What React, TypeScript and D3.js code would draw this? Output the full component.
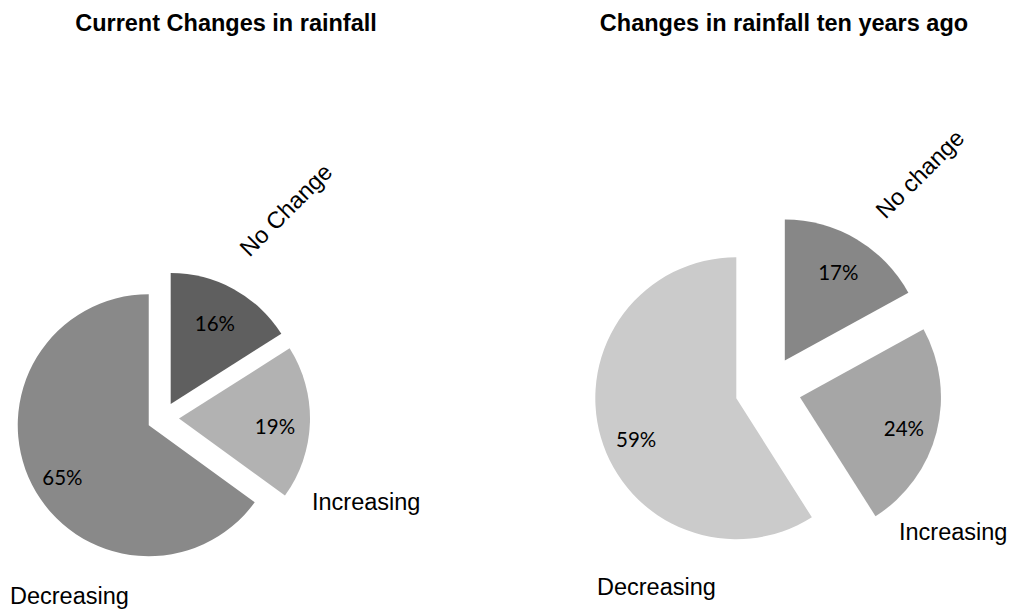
import React from "react";
import * as d3 from "d3";

// Survey responses on rainfall change (percent of respondents)
const categories = ["No Change", "Increasing", "Decreasing"];
const currentValues = [16, 19, 65];
const pastValues = [17, 24, 59];
const currentLabels = ["No Change", "Increasing", "Decreasing"];
const pastLabels = ["No change", "Increasing", "Decreasing"];
const currentColors = ["#5f5f5f", "#b2b2b2", "#898989"];
const pastColors = ["#878787", "#a6a6a6", "#cbcbcb"];

const W = 1013;
const H = 610;
const LABEL_FONT = "'Liberation Sans', Arial, sans-serif";
const PCT_FONT = "Lato, 'Open Sans', sans-serif";

type NamePos = { x: number; y: number; rotate?: number; anchor?: string };

type PieSpec = {
  title: string;
  titleX: number;
  cx: number;
  cy: number;
  r: number;
  explode: number;
  // per-slice value-label placement: radius fraction and angular nudge (degrees)
  labelRatio: number[];
  labelTurn: number[];
  values: number[];
  colors: string[];
  names: string[];
  namePos: NamePos[];
};

const pies: PieSpec[] = [
  {
    title: "Current Changes in rainfall",
    titleX: 226,
    cx: 163,
    cy: 418,
    r: 131,
    explode: 16,
    labelRatio: [0.7, 0.735, 0.77],
    labelTurn: [0, 2.8, -4.1],
    values: currentValues,
    colors: currentColors,
    names: currentLabels,
    namePos: [
      { x: 286, y: 210, rotate: -45, anchor: "middle" },
      { x: 312, y: 510, anchor: "start" },
      { x: 10, y: 604, anchor: "start" },
    ],
  },
  {
    title: "Changes in rainfall ten years ago",
    titleX: 784,
    cx: 768,
    cy: 389,
    r: 141,
    explode: 33,
    labelRatio: [0.73, 0.77, 0.77],
    labelTurn: [0.7, 2.3, -6.5],
    values: pastValues,
    colors: pastColors,
    names: pastLabels,
    namePos: [
      { x: 920, y: 174, rotate: -45, anchor: "middle" },
      { x: 899, y: 540, anchor: "start" },
      { x: 597, y: 595, anchor: "start" },
    ],
  },
];

function ExplodedPie({ spec }: { spec: PieSpec }) {
  const pie = d3
    .pie<number>()
    .sort(null)
    .value((d) => d)
    .startAngle(0)
    .endAngle(2 * Math.PI);
  const slices = pie(spec.values);
  const arc = d3.arc<d3.PieArcDatum<number>>().innerRadius(0).outerRadius(spec.r);

  return (
    <g>
      <text
        x={spec.titleX}
        y={31}
        textAnchor="middle"
        fontFamily={LABEL_FONT}
        fontWeight="bold"
        fontSize={23.5}
        fill="#000"
      >
        {spec.title}
      </text>
      <g transform={`translate(${spec.cx},${spec.cy})`}>
        {slices.map((s, i) => {
          const mid = (s.startAngle + s.endAngle) / 2;
          const dx = Math.sin(mid) * spec.explode;
          const dy = -Math.cos(mid) * spec.explode;
          const la = mid + (spec.labelTurn[i] * Math.PI) / 180;
          const lr = spec.r * spec.labelRatio[i];
          const lx = Math.sin(la) * lr;
          const ly = -Math.cos(la) * lr;
          return (
            <g key={categories[i]} transform={`translate(${dx},${dy})`}>
              <path d={arc(s) || ""} fill={spec.colors[i]} />
              <text
                x={lx}
                y={ly}
                dy="0.36em"
                textAnchor="middle"
                fontFamily={PCT_FONT}
                fontSize={20.5}
                fill="#000"
              >
                {`${s.data}%`}
              </text>
            </g>
          );
        })}
      </g>
      {spec.names.map((n, i) => {
        const p = spec.namePos[i];
        return (
          <text
            key={n}
            x={p.x}
            y={p.y}
            textAnchor={p.anchor || "start"}
            dominantBaseline={p.rotate ? "central" : "auto"}
            transform={p.rotate ? `rotate(${p.rotate},${p.x},${p.y})` : undefined}
            fontFamily={LABEL_FONT}
            fontSize={23.5}
            fill="#000"
          >
            {n}
          </text>
        );
      })}
    </g>
  );
}

export default function App() {
  return (
    <svg
      width={W}
      height={H}
      viewBox={`0 0 ${W} ${H}`}
      style={{ position: "absolute", left: 0, top: 0, background: "#fff" }}
    >
      <rect width={W} height={H} fill="#fff" />
      {pies.map((p) => (
        <ExplodedPie key={p.title} spec={p} />
      ))}
    </svg>
  );
}
